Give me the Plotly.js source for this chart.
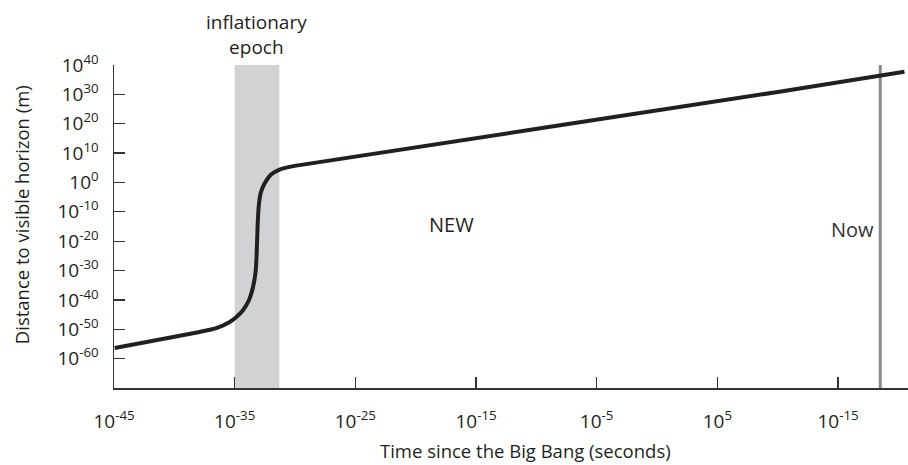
<!DOCTYPE html>
<html>
<head>
<meta charset="utf-8">
<script src="https://cdn.plot.ly/plotly-3.0.1.min.js"></script>
<style>html,body{margin:0;padding:0;background:#fff;}#chart{width:908px;height:465px;}</style>
</head>
<body>
<div id="chart"></div>
<script>
// Curve: log10(time in s) vs log10(distance to visible horizon in m)
const logTime = [-44.94, -37.90, -36.52, -35.41, -34.86, -34.31, -33.82, -33.48, -33.28, -33.20, -33.15, -33.09, -33.01, -32.85, -32.51, -31.96, -31.27, -30.44, -29.62, 10.14, 20.5];
const logDistance = [-56.4, -50.9, -49.6, -47.5, -45.8, -43.5, -40.1, -35.6, -31.0, -26.5, -20.8, -14.0, -8.3, -3.7, -0.3, 2.8, 4.4, 5.3, 5.9, 30.9, 37.7];

// Inflationary epoch band (log10 seconds)
const inflationStart = [-35];
const inflationEnd = [-31.3];
// "Now" marker (log10 seconds)
const nowTime = [18.5];

// Axis ticks
const xTickVals = [-45, -35, -25, -15, -5, 5, 15];
const xTickText = ['10<sup>-45</sup>', '10<sup>-35</sup>', '10<sup>-25</sup>', '10<sup>-15</sup>', '10<sup>-5</sup>', '10<sup>5</sup>', '10<sup>-15</sup>'];
const yTickVals = [40, 30, 20, 10, 0, -10, -20, -30, -40, -50, -60];
const yTickText = ['10<sup>40</sup>', '10<sup>30</sup>', '10<sup>20</sup>', '10<sup>10</sup>', '10<sup>0</sup>', '10<sup>-10</sup>', '10<sup>-20</sup>', '10<sup>-30</sup>', '10<sup>-40</sup>', '10<sup>-50</sup>', '10<sup>-60</sup>'];

const FONT = 'Open Sans, Noto Sans, sans-serif';
const TXT = '#231f20';

const trace = {
  x: logTime, y: logDistance, type: 'scatter', mode: 'lines',
  line: {color: '#231f20', width: 4, shape: 'spline', smoothing: 0.5},
  hoverinfo: 'skip', showlegend: false
};

const layout = {
  width: 908, height: 465,
  margin: {l: 114, r: 0, t: 65, b: 77, pad: 0},
  paper_bgcolor: '#fff', plot_bgcolor: '#fff',
  font: {family: FONT, color: TXT, size: 16},
  showlegend: false,
  xaxis: {
    range: [-45, 20.8], showgrid: false, zeroline: false,
    showline: true, linecolor: '#333', linewidth: 1.5,
    ticks: 'inside', ticklen: 11, tickwidth: 1.2, tickcolor: '#333',
    tickvals: xTickVals, ticktext: xTickText,
    tickfont: {family: FONT, size: 19, color: TXT},
    ticklabelstandoff: 16
  },
  yaxis: {
    range: [-70, 40], showgrid: false, zeroline: false,
    showline: true, linecolor: '#333', linewidth: 1.5,
    ticks: 'inside', ticklen: 11, tickwidth: 1.2, tickcolor: '#333',
    tickvals: yTickVals, ticktext: yTickText,
    tickfont: {family: FONT, size: 19, color: TXT},
    ticklabelstandoff: 10
  },
  shapes: [
    {type: 'rect', xref: 'x', yref: 'paper', x0: inflationStart[0], x1: inflationEnd[0], y0: 0, y1: 1,
     fillcolor: '#d1d2d4', line: {width: 0}, layer: 'below'},
    {type: 'line', xref: 'x', yref: 'paper', x0: nowTime[0], x1: nowTime[0], y0: 0, y1: 1,
     line: {color: '#8a8a8c', width: 3}, layer: 'below'}
  ],
  annotations: [
    {xref: 'x', yref: 'paper', x: (inflationStart[0] + inflationEnd[0]) / 2, y: 1, yanchor: 'bottom', yshift: 3,
     text: 'inflationary<br>epoch', showarrow: false, font: {family: FONT, size: 19, color: TXT}},
    {xref: 'x', yref: 'paper', x: nowTime[0], xanchor: 'right', xshift: -4, y: 0.49, yanchor: 'middle',
     text: 'Now', showarrow: false, font: {family: FONT, size: 20, color: '#333'}},
    {xref: 'paper', yref: 'paper', x: 0.425, y: 0.505, text: 'NEW', showarrow: false,
     font: {family: FONT, size: 20, color: TXT}},
    {xref: 'paper', yref: 'paper', x: 0.518, y: 0, yanchor: 'top', yshift: -48,
     text: 'Time since the Big Bang (seconds)', showarrow: false, font: {family: FONT, size: 18.5, color: TXT}},
    {xref: 'paper', yref: 'paper', x: 0, xanchor: 'center', xshift: -93, y: 0.535, yanchor: 'middle',
     text: 'Distance to visible horizon (m)', textangle: -90, showarrow: false, font: {family: FONT, size: 18.5, color: TXT}}
  ]
};

Plotly.newPlot('chart', [trace], layout, {displayModeBar: false, staticPlot: true});
</script>
</body>
</html>
